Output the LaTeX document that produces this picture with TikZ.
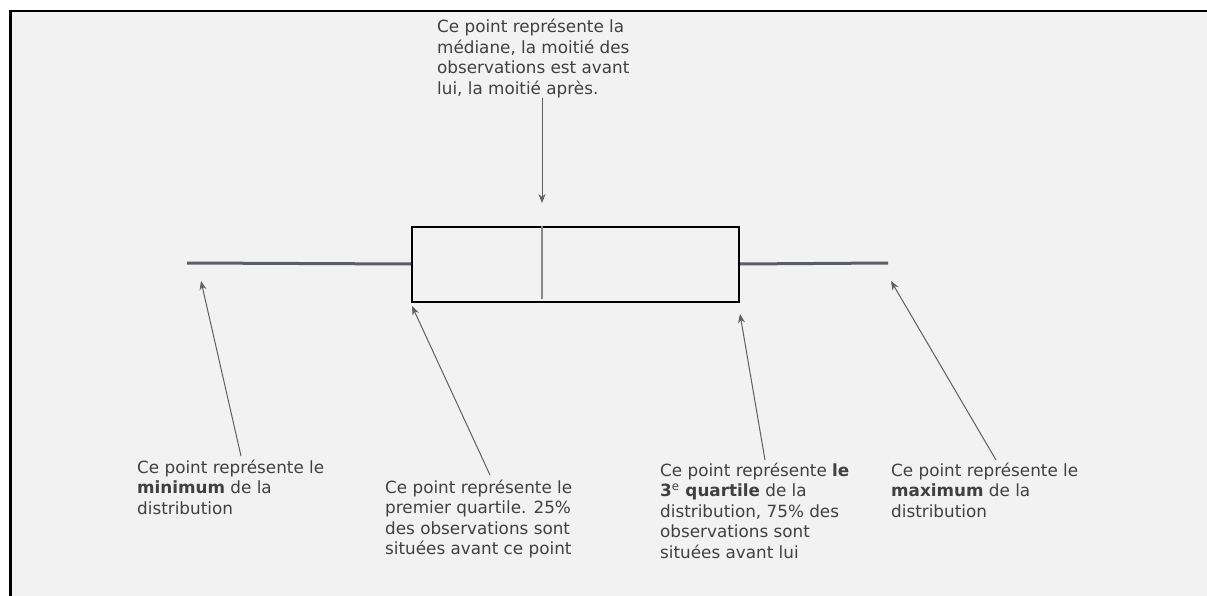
\documentclass[tikz,border=0pt]{standalone}
\usepackage{fontspec}
\setmainfont{DejaVu Sans}
\usetikzlibrary{arrows.meta}
\definecolor{panel}{HTML}{F2F2F2}
\definecolor{txt}{HTML}{404040}
\definecolor{whisk}{HTML}{5A5D63}
\definecolor{medcol}{HTML}{85878A}
\definecolor{arr}{HTML}{5F5F5F}
\begin{document}
\begin{tikzpicture}[x=1pt,y=-1pt,
  % the base anchor of a multi-line label sits on its last line
  label text/.style={anchor=base west,inner sep=0pt,align=left,text=txt,
    font=\fontsize{16.8}{20.5}\selectfont},
  pointer/.style={draw=arr,line width=1pt,-{Stealth[length=9pt,width=7pt]}},
  whisker/.style={draw=whisk,line width=3pt},
  boxline/.style={draw=black,line width=2pt},
  medline/.style={draw=medcol,line width=2.5pt}]
\useasboundingbox (0,0) rectangle (1207,596);
% panel with its frame
\fill[white] (0,0) rectangle (1207,596);
\filldraw[fill=panel,draw=black,line width=2.5pt] (10.5,11) rectangle (1230,620);

% box plot
\coordinate (wl) at (187,263);
\coordinate (wr) at (888,263);
\node[boxline,minimum width=327pt,minimum height=75pt,inner sep=0pt,anchor=north west] (box) at (411,225.5) {};
\draw[whisker] (wl) -- (box.west);
\draw[whisker] (box.east) -- (wr);
\coordinate (medtop) at (542,226);
\coordinate (medbot) at (542,299);
\draw[medline] (medtop) -- (medbot);

% labels
\node[label text] (tmed) at (437,94.5) {Ce point représente la\\médiane, la moitié des\\observations est avant\\lui, la moitié après.};
\node[label text] (tmin) at (137,514) {Ce point représente le\\\textbf{minimum} de la\\distribution};
\node[label text] (tq1) at (385,554.5) {Ce point représente le\\premier quartile. 25\%\\des observations sont\\situées avant ce point};
\node[label text] (tq3) at (660,558) {Ce point représente \textbf{le}\\\textbf{3\textsuperscript{\normalfont e} quartile} de la\\distribution, 75\% des\\observations sont\\situées avant lui};
\node[label text] (tmax) at (891,517) {Ce point représente le\\\textbf{maximum} de la\\distribution};

% pointer ends
\coordinate (amed0) at (542,98);
\coordinate (amed1) at (542,203);
\coordinate (amin0) at (241,456);
\coordinate (amin1) at (201,281);
\coordinate (aq10) at (490,475);
\coordinate (aq11) at (412,306);
\coordinate (aq30) at (765,460);
\coordinate (aq31) at (740,314);
\coordinate (amax0) at (996,460);
\coordinate (amax1) at (891,281);

\draw[pointer] (amed0) -- (amed1);
\draw[pointer] (amin0) -- (amin1);
\draw[pointer] (aq10) -- (aq11);
\draw[pointer] (aq30) -- (aq31);
\draw[pointer] (amax0) -- (amax1);
\end{tikzpicture}
\end{document}
